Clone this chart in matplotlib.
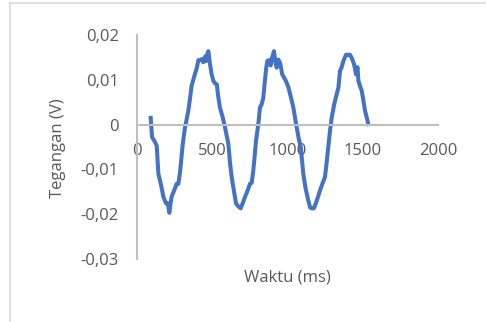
import matplotlib.pyplot as plt
from matplotlib.lines import Line2D
from matplotlib.ticker import FuncFormatter

waktu = [91, 100, 118, 131, 142, 160, 175, 193, 205, 215, 222, 230, 248, 264, 275, 286,
         295, 304, 319, 330, 341, 352, 363, 374, 385, 396, 408, 418, 430, 440, 452, 460,
         468, 474, 485, 496, 507, 518, 530, 540, 551, 568, 585, 596, 607, 618, 629, 644,
         658, 672, 689, 703, 718, 735, 751, 762, 773, 791, 806, 817, 828, 839, 850, 858,
         866, 876, 888, 898, 910, 920, 928, 940, 952, 965, 977, 990, 1006, 1022, 1039,
         1050, 1061, 1075, 1088, 1105, 1120, 1138, 1150, 1160, 1175, 1188, 1202, 1216,
         1232, 1249, 1260, 1271, 1283, 1294, 1310, 1327, 1338, 1349, 1360, 1371, 1389,
         1402, 1415, 1428, 1442, 1456, 1465, 1471, 1482, 1493, 1505, 1515, 1527, 1537]
tegangan = [0.0015, -0.0028, -0.0038, -0.0047, -0.011, -0.0135, -0.0161, -0.0176, -0.0176,
            -0.0197, -0.0178, -0.0161, -0.0146, -0.0132, -0.0132, -0.0106, -0.0075, -0.0043,
            -0.0006, 0.0012, 0.0031, 0.0058, 0.0087, 0.01, 0.0113, 0.0125, 0.0144, 0.0144,
            0.0146, 0.0139, 0.0152, 0.0142, 0.0158, 0.0164, 0.0135, 0.0112, 0.0098, 0.0092,
            0.009, 0.0062, 0.0038, 0.0018, -0.0006, -0.0025, -0.0043, -0.0085, -0.0117,
            -0.0148, -0.0176, -0.0182, -0.0187, -0.0175, -0.0161, -0.0147, -0.0132, -0.0130,
            -0.0102, -0.0036, 0.0001, 0.0038, 0.0045, 0.006, 0.0098, 0.0125, 0.0142, 0.0144,
            0.0132, 0.015, 0.0164, 0.0139, 0.0127, 0.0145, 0.0136, 0.0112, 0.0105, 0.0097,
            0.0083, 0.0062, 0.0038, 0.0015, -0.0006, -0.0032, -0.005, -0.011, -0.0142,
            -0.0169, -0.0185, -0.0187, -0.0187, -0.0176, -0.0162, -0.0147, -0.0132, -0.0117,
            -0.0085, -0.005, -0.0012, 0.0016, 0.0045, 0.0068, 0.0082, 0.012, 0.0128, 0.0142,
            0.0156, 0.0156, 0.0156, 0.0148, 0.0135, 0.0112, 0.0128, 0.0098, 0.0086, 0.0076,
            0.0052, 0.0031, 0.0015, 0.0001]

plt.rcParams['font.family'] = ['Open Sans', 'DejaVu Sans']
teks = '#595959'
garis = '#BFBFBF'

fig = plt.figure(figsize=(4.86, 3.22), dpi=100)
ax = fig.add_axes([137 / 486, 1 - 259 / 322, 301 / 486, 224 / 322])

ax.plot(waktu, tegangan, color='#4472C4', linewidth=2.9, solid_joinstyle='round')

ax.set_xlim(0, 2000)
ax.set_ylim(-0.03, 0.02)
ax.set_xticks([0, 500, 1000, 1500, 2000])
ax.set_yticks([-0.03, -0.02, -0.01, 0, 0.01, 0.02])
ax.yaxis.set_major_formatter(FuncFormatter(lambda v, p: '0' if abs(v) < 1e-9 else f'{v:.2f}'.replace('.', ',')))

for s in ['top', 'right']:
    ax.spines[s].set_visible(False)
ax.spines['bottom'].set_position(('data', 0))
ax.spines['bottom'].set_color(garis)
ax.spines['left'].set_color(garis)
ax.spines['bottom'].set_linewidth(1.5)
ax.spines['left'].set_linewidth(1.5)
ax.tick_params(axis='x', length=0, pad=13, labelsize=12, labelcolor=teks)
ax.tick_params(axis='y', length=0, pad=13, labelsize=12, labelcolor=teks)

fig.text(287.5 / 486, 1 - 277 / 322, 'Waktu (ms)', ha='center', va='center', fontsize=12, color=teks)
fig.text(58 / 486, 1 - 148 / 322, 'Tegangan (V)', ha='center', va='center', rotation=90, fontsize=12, color=teks)

# chart border (Excel frame), partly cut off
fig.add_artist(Line2D([10 / 486, 10 / 486], [0, 1 - 3 / 322], color='#D9D9D9', linewidth=1.2))
fig.add_artist(Line2D([10 / 486, 1], [1 - 3 / 322, 1 - 3 / 322], color='#D9D9D9', linewidth=1.2))

fig.savefig('out.png', dpi=100)
